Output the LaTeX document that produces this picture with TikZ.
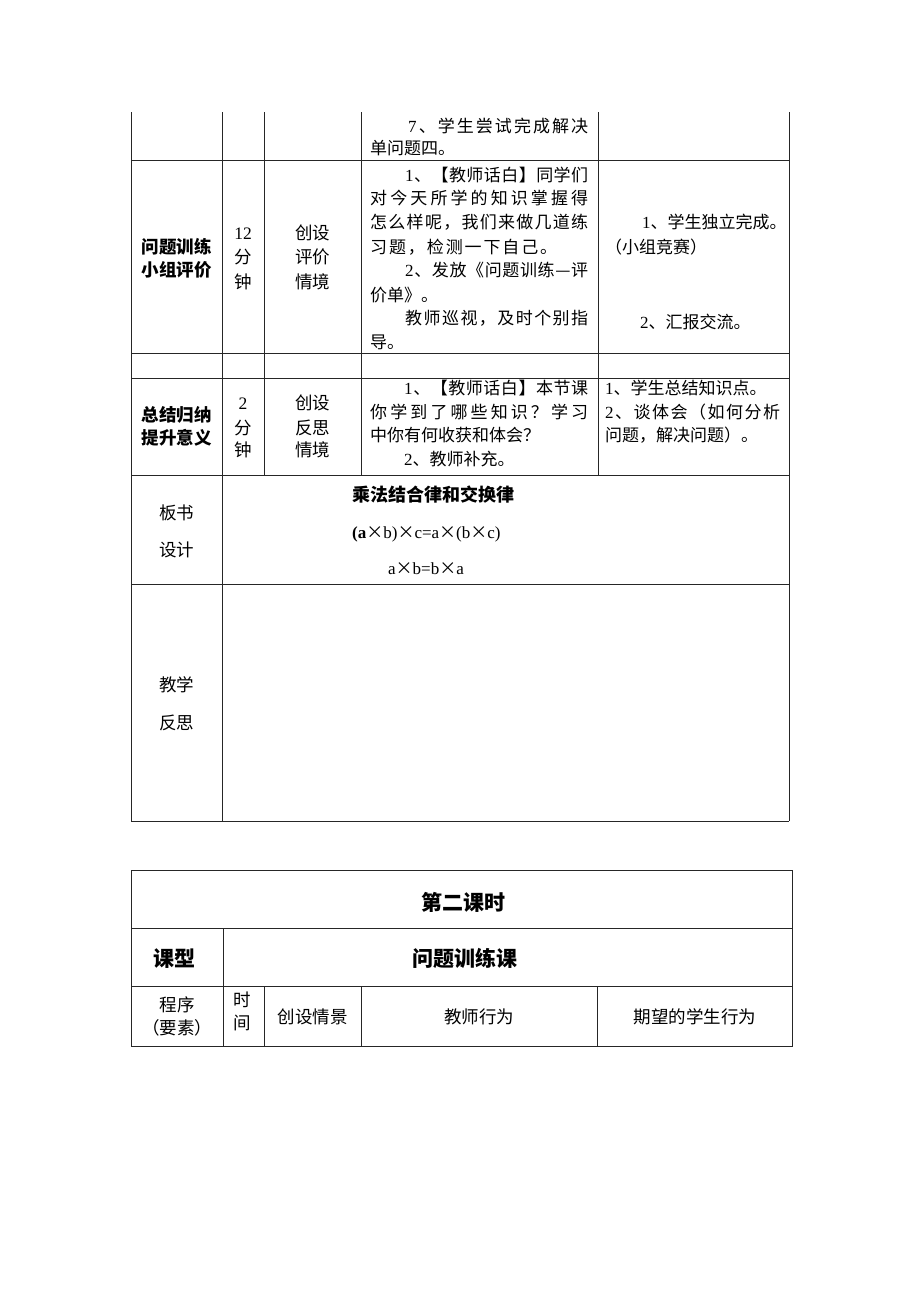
\documentclass[tikz,border=0pt]{standalone}
\usepackage{fontspec}
\setmainfont{Liberation Serif}
\newfontfamily\cjk{Noto Sans CJK SC}
\newfontfamily\lat{Liberation Serif}
\newXeTeXintercharclass\cjkcls
\makeatletter
\newcommand\setcjkrange[2]{\count@=#1\relax\loop\XeTeXcharclass\count@=\cjkcls\relax\ifnum\count@<#2\relax\advance\count@ 1\repeat}
\makeatother
\setcjkrange{"3000}{"303F}
\setcjkrange{"4E00}{"9FFF}
\setcjkrange{"FF00}{"FFEF}
\XeTeXcharclass"2014=\cjkcls
\XeTeXcharclass"00D7=\cjkcls
\XeTeXinterchartoks 0 \cjkcls = {\cjk}
\XeTeXinterchartoks 4095 \cjkcls = {\cjk}
\XeTeXinterchartoks \cjkcls 0 = {\lat}
\XeTeXinterchartokenstate=1
\newcommand\jl[2]{\hbox to #1pt{\jlfirst#2\relax}}
\def\jlfirst#1{#1\jlrest}
\def\jlrest#1{\ifx\relax#1\else\hfil#1\expandafter\jlrest\fi}
\tikzset{
  rule/.style={draw=black!85, line width=1pt},
  txt/.style={anchor=base west, inner sep=0pt, font=\fontsize{17}{20}\selectfont},
  ctxt/.style={anchor=base, inner sep=0pt, font=\fontsize{17.5}{20}\selectfont},
  lbl/.style={anchor=base, inner sep=0pt, font=\fontsize{17.5}{20}\selectfont\bfseries},
  big/.style={anchor=base, inner sep=0pt, font=\fontsize{21}{24}\selectfont\bfseries}
}
\begin{document}
\begin{tikzpicture}[x=1pt,y=-1pt]
\useasboundingbox[fill=white] (0,0) rectangle (920,1302);
% ---------- top table rules ----------
\draw[rule] (131,112) -- (131,821);
\draw[rule] (222,112) -- (222,821);
\draw[rule] (264,112) -- (264,475);
\draw[rule] (361,112) -- (361,475);
\draw[rule] (598,112) -- (598,475);
\draw[rule] (789,112) -- (789,821);
\foreach \yy in {160,353,378,475,584,821} \draw[rule] (131,\yy) -- (789,\yy);
% ---------- bottom table rules ----------
\draw[rule] (131,870) rectangle (792,1046);
\draw[rule] (131,928) -- (792,928);
\draw[rule] (131,986) -- (792,986);
\draw[rule] (223,928) -- (223,1046);
\foreach \xx in {264,361,597} \draw[rule] (\xx,986) -- (\xx,1046);
% ---------- row 1 ----------
\node[txt] (r1a) at (408,132.5) {\jl{180}{7、学生尝试完成解决}};
\node[txt] (r1b) at (370,154.5) {单问题四。};
% ---------- row 2 ----------
\node[lbl] (r2l1) at (176.5,253.5) {问题训练};
\node[lbl] (r2l2) at (176.5,276.5) {小组评价};
\node[ctxt] (r2t1) at (243,239.5) {12};
\node[ctxt] (r2t2) at (243,263.5) {分};
\node[ctxt] (r2t3) at (243,288.5) {钟};
\node[ctxt] (r2s1) at (312.5,239.5) {创设};
\node[ctxt] (r2s2) at (312.5,263.5) {评价};
\node[ctxt] (r2s3) at (312.5,288.5) {情境};
\node[txt] (r2a) at (405,181.5) {\jl{183}{1、【教师话白】同学们}};
\node[txt] (r2b) at (370,204.5) {\jl{218}{对今天所学的知识掌握得}};
\node[txt] (r2c) at (370,228.5) {\jl{218}{怎么样呢，我们来做几道练}};
\node[txt] (r2d) at (370,253.5) {\jl{187}{习题，检测一下自己。}};
\node[txt] (r2e) at (405,276.5) {\jl{183}{2、发放《问题训练—评}};
\node[txt] (r2f) at (370,301.5) {价单》。};
\node[txt] (r2g) at (405,324.5) {\jl{183}{教师巡视，及时个别指}};
\node[txt] (r2h) at (370,348.5) {导。};
\node[txt] (r2r1) at (642,228.5) {1、学生独立完成。};
\node[txt] (r2r2) at (605,253.5) {（小组竞赛）};
\node[txt] (r2r3) at (640,328.5) {2、汇报交流。};
% ---------- row 4 ----------
\node[lbl] (r4l1) at (176.5,421.5) {总结归纳};
\node[lbl] (r4l2) at (176.5,444.5) {提升意义};
\node[ctxt] (r4t1) at (243,409.5) {2};
\node[ctxt] (r4t2) at (243,434.5) {分};
\node[ctxt] (r4t3) at (243,456.5) {钟};
\node[ctxt] (r4s1) at (312.5,409.5) {创设};
\node[ctxt] (r4s2) at (312.5,434.5) {反思};
\node[ctxt] (r4s3) at (312.5,456.5) {情境};
\node[txt] (r4a) at (404,394.5) {\jl{184}{1、【教师话白】本节课}};
\node[txt] (r4b) at (370,418.5) {\jl{218}{你学到了哪些知识？学习}};
\node[txt] (r4c) at (370,441.5) {中你有何收获和体会？};
\node[txt] (r4d) at (404,465) {2、教师补充。};
\node[txt] (r4r1) at (605,394.5) {1、学生总结知识点。};
\node[txt] (r4r2) at (605,418.5) {\jl{175}{2、谈体会（如何分析}};
\node[txt] (r4r3) at (605,441.5) {问题，解决问题）。};
% ---------- row 5 ----------
\node[ctxt] (r5l1) at (176.5,519.5) {板书};
\node[ctxt] (r5l2) at (176.5,556.5) {设计};
\node[txt, font=\fontsize{18}{20}\selectfont\bfseries] (r5a) at (352,501.5) {乘法结合律和交换律};
\node[txt] (r5b) at (352,538.5) {{\bfseries(a}×b)×c=a×(b×c)};
\node[txt] (r5c) at (388,574.5) {a×b=b×a};
% ---------- row 6 ----------
\node[ctxt] (r6l1) at (176.5,691.5) {教学};
\node[ctxt] (r6l2) at (176.5,729.5) {反思};
% ---------- bottom table ----------
\node[big] (b1) at (463,910) {第二课时};
\node[big] (b2) at (174,966) {课型};
\node[big] (b3) at (465,966) {问题训练课};
\node[ctxt] (b4) at (177,1011.5) {程序};
\node[ctxt] (b5) at (177,1034.5) {（要素）};
\node[ctxt] (b6) at (242,1006.5) {时};
\node[ctxt] (b7) at (242,1029.5) {间};
\node[ctxt] (b8) at (312.5,1023.5) {创设情景};
\node[ctxt] (b9) at (479,1023.5) {教师行为};
\node[ctxt] (b10) at (695,1023.5) {期望的学生行为};
\end{tikzpicture}
\end{document}
